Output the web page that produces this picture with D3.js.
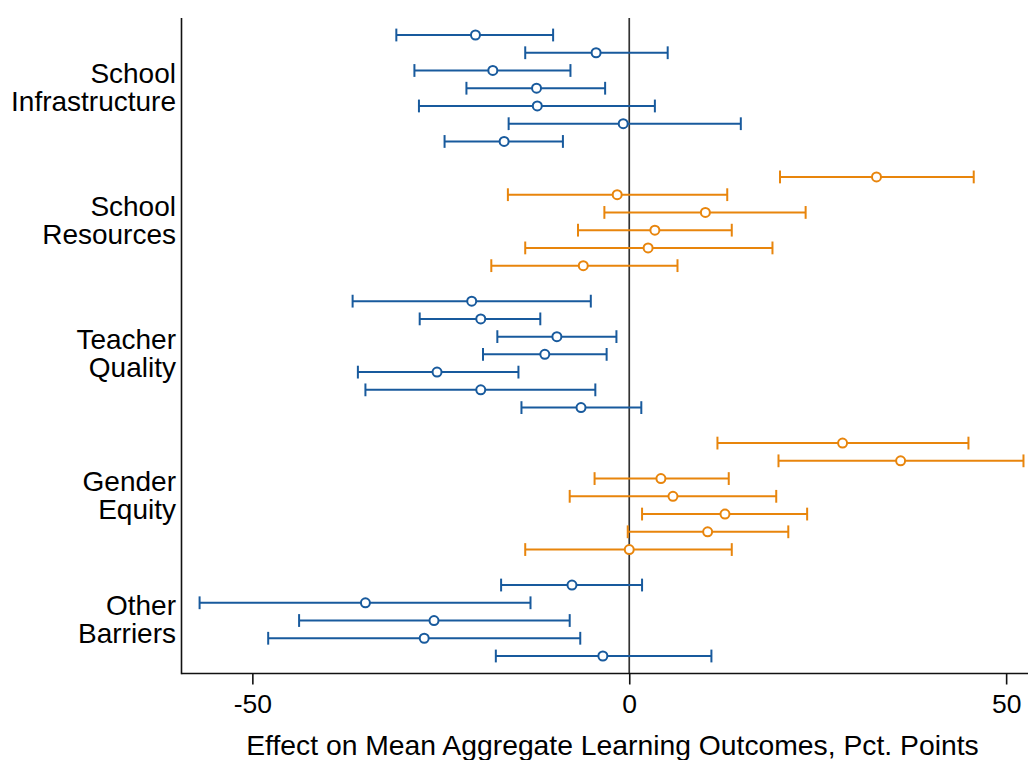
<!DOCTYPE html>
<html>
<head>
<meta charset="utf-8">
<script src="https://cdn.jsdelivr.net/npm/d3@7"></script>
<style>
  html, body { margin: 0; padding: 0; background: #fff; }
  svg { display: block; font-family: "Liberation Sans", Arial, sans-serif; }
</style>
</head>
<body>
<svg id="chart" width="1028" height="760"></svg>
<script>
// ---- Data ----
const categories = [
  ["School", "Infrastructure"],
  ["School", "Resources"],
  ["Teacher", "Quality"],
  ["Gender", "Equity"],
  ["Other", "Barriers"]
];
const groupColors = ["blue", "orange", "blue", "orange", "blue"];

const infraEst  = [-20.4, -4.4, -18.1, -12.3, -12.2, -0.8, -16.6];
const infraLow  = [-30.9, -13.8, -28.5, -21.6, -27.9, -16.0, -24.5];
const infraHigh = [-10.1, 5.1, -7.8, -3.2, 3.4, 14.8, -8.8];

const resEst  = [32.8, -1.6, 10.1, 3.4, 2.5, -6.1];
const resLow  = [20.0, -16.1, -3.3, -6.8, -13.8, -18.3];
const resHigh = [45.7, 13.0, 23.4, 13.6, 19.0, 6.4];

const teachEst  = [-20.9, -19.7, -9.6, -11.2, -25.5, -19.7, -6.4];
const teachLow  = [-36.7, -27.8, -17.5, -19.4, -36.0, -35.0, -14.3];
const teachHigh = [-5.1, -11.8, -1.7, -3.0, -14.7, -4.5, 1.6];

const genderEst  = [28.3, 36.0, 4.2, 5.8, 12.7, 10.4, 0.0];
const genderLow  = [11.7, 19.8, -4.6, -7.9, 1.7, -0.2, -13.8];
const genderHigh = [45.0, 52.3, 13.2, 19.5, 23.6, 21.1, 13.6];

const otherEst  = [-7.6, -35.0, -25.9, -27.2, -3.5];
const otherLow  = [-17.0, -57.0, -43.8, -47.9, -17.7];
const otherHigh = [1.7, -13.1, -7.9, -6.5, 10.9];

const xTicks = [-50, 0, 50];
const xTitle = "Effect on Mean Aggregate Learning Outcomes, Pct. Points";

const groups = [
  [infraEst, infraLow, infraHigh],
  [resEst, resLow, resHigh],
  [teachEst, teachLow, teachHigh],
  [genderEst, genderLow, genderHigh],
  [otherEst, otherLow, otherHigh]
];

// ---- Build rows with one empty slot between groups ----
const rows = [];
const groupCenters = [];
let idx = 0;
groups.forEach((g, gi) => {
  const start = idx;
  g[0].forEach((est, i) => {
    rows.push({ pos: idx, est: est, lo: g[1][i], hi: g[2][i], color: groupColors[gi] });
    idx++;
  });
  groupCenters.push((start + idx - 1) / 2);
  idx++; // gap
});
const lastPos = idx - 2;

// ---- Layout ----
const colorMap = { blue: "#185a9d", orange: "#e8850c" };
const plotLeft = 181.5, plotRight = 1028, plotTop = 18, plotBottom = 673.5;

const x = d3.scaleLinear().domain([-59.4, 52.9]).range([plotLeft, plotRight]);
const y = d3.scaleLinear().domain([0, lastPos]).range([35, 656]);

const svg = d3.select("#chart");

// zero reference line
svg.append("line")
  .attr("x1", x(0)).attr("x2", x(0))
  .attr("y1", plotTop).attr("y2", plotBottom)
  .attr("stroke", "#333").attr("stroke-width", 1.7);

// left axis line
svg.append("line")
  .attr("x1", plotLeft).attr("x2", plotLeft)
  .attr("y1", plotTop).attr("y2", plotBottom + 0.75)
  .attr("stroke", "#111").attr("stroke-width", 1.6);

// bottom axis
const xAxis = d3.axisBottom(x).tickValues(xTicks).tickSize(11).tickPadding(10)
  .tickFormat(d3.format("d"));
const gx = svg.append("g").attr("transform", `translate(0,${plotBottom})`).call(xAxis);
gx.select(".domain").attr("d", `M${plotLeft},0H${plotRight}`).attr("stroke", "#111").attr("stroke-width", 1.6);
gx.selectAll(".tick line").attr("stroke", "#111").attr("stroke-width", 1.6);
gx.selectAll(".tick text").attr("fill", "#000").attr("font-size", 26.5)
  .attr("font-family", "'Liberation Sans', Arial, sans-serif")
  .text(d => d < 0 ? "-" + Math.abs(d) : String(d));

// x title
svg.append("text")
  .attr("x", (245 + 980) / 2).attr("y", 755)
  .attr("text-anchor", "middle")
  .attr("font-size", 28.3)
  .attr("fill", "#000")
  .text(xTitle);

// category labels
categories.forEach((lines, gi) => {
  const cy = y(groupCenters[gi]);
  const t = svg.append("text")
    .attr("text-anchor", "end")
    .attr("font-size", 28)
    .attr("fill", "#000");
  t.append("tspan").attr("x", 176).attr("y", cy - 5.5).text(lines[0]);
  t.append("tspan").attr("x", 176).attr("y", cy + 22.5).text(lines[1]);
});

// error bars
const capH = 6.4;
const bars = svg.append("g");
rows.forEach(r => {
  const c = colorMap[r.color];
  const yy = y(r.pos);
  const g = bars.append("g").attr("stroke", c).attr("stroke-width", 2).attr("fill", "none");
  g.append("line").attr("x1", x(r.lo)).attr("x2", x(r.hi)).attr("y1", yy).attr("y2", yy);
  g.append("line").attr("x1", x(r.lo)).attr("x2", x(r.lo)).attr("y1", yy - capH).attr("y2", yy + capH);
  g.append("line").attr("x1", x(r.hi)).attr("x2", x(r.hi)).attr("y1", yy - capH).attr("y2", yy + capH);
  g.append("circle").attr("cx", x(r.est)).attr("cy", yy).attr("r", 4.5)
    .attr("fill", "#fff").attr("stroke-width", 2);
});
</script>
</body>
</html>
